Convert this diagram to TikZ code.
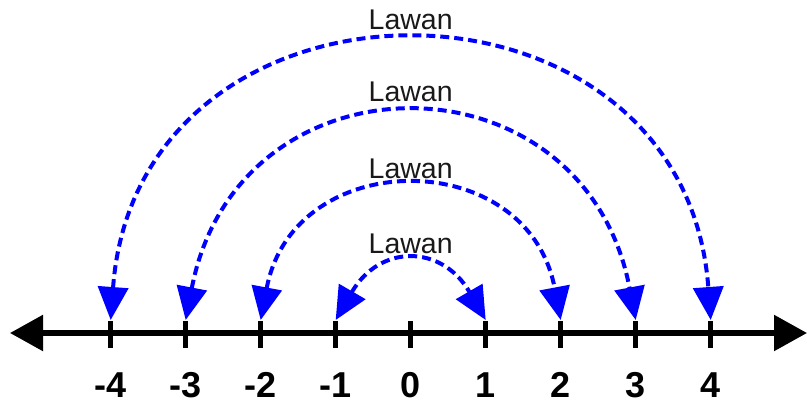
\documentclass[tikz,border=0pt]{standalone}
\usepackage{fontspec}
\setmainfont{Liberation Sans}
\usetikzlibrary{arrows.meta,calc}
\begin{document}
\begin{tikzpicture}[x=1pt,y=-1pt,
  axisline/.style={line width=5.5pt, {Triangle[length=33pt,width=35pt]}-{Triangle[length=33pt,width=35pt]}},
  tickmark/.style={line width=5pt},
  numlabel/.style={font=\fontsize{36}{40}\selectfont\bfseries, inner sep=0pt},
  arclabel/.style={font=\fontsize{28.5}{31}\selectfont, inner sep=0pt, text=black!90},
  arcarrow/.style={draw=blue, line width=4pt, dash pattern=on 9pt off 5pt,
    {Triangle[length=33pt,width=30pt]}-{Triangle[length=33pt,width=30pt]}}
]
\useasboundingbox (0,0) rectangle (807,405);

% axis
\coordinate (axL) at (10,333);
\coordinate (axR) at (807,333);
\draw[axisline] (axL) -- (axR);

% ticks, numbers
\foreach \i/\n in {-4/m4,-3/m3,-2/m2,-1/m1,0/z0,1/p1,2/p2,3/p3,4/p4}{
  \pgfmathsetmacro{\xx}{410.7+75*\i}
  \coordinate (tt\n) at (\xx,321);
  \coordinate (tb\n) at (\xx,348);
  \coordinate (a\n) at (\xx,320);
  \draw[tickmark] (tt\n) -- (tb\n);
  \node[numlabel] (num\n) at (\xx,385) {\i};
}

% arcs
\draw[arcarrow] (am4) .. controls ($(am4)+(27,-369)$) and ($(ap4)+(-27,-369)$) .. (ap4);
\draw[arcarrow] (am3) .. controls ($(am3)+(52,-272)$) and ($(ap3)+(-52,-272)$) .. (ap3);
\draw[arcarrow] (am2) .. controls ($(am2)+(33,-175)$) and ($(ap2)+(-33,-175)$) .. (ap2);
\draw[arcarrow] (am1) .. controls ($(am1)+(44,-76)$) and ($(ap1)+(-44,-76)$) .. (ap1);

% labels
\node[arclabel] (lab1) at (410.7,19.5) {Lawan};
\node[arclabel] (lab2) at (410.7,92) {Lawan};
\node[arclabel] (lab3) at (410.7,169) {Lawan};
\node[arclabel] (lab4) at (410.7,243.5) {Lawan};
\end{tikzpicture}
\end{document}
